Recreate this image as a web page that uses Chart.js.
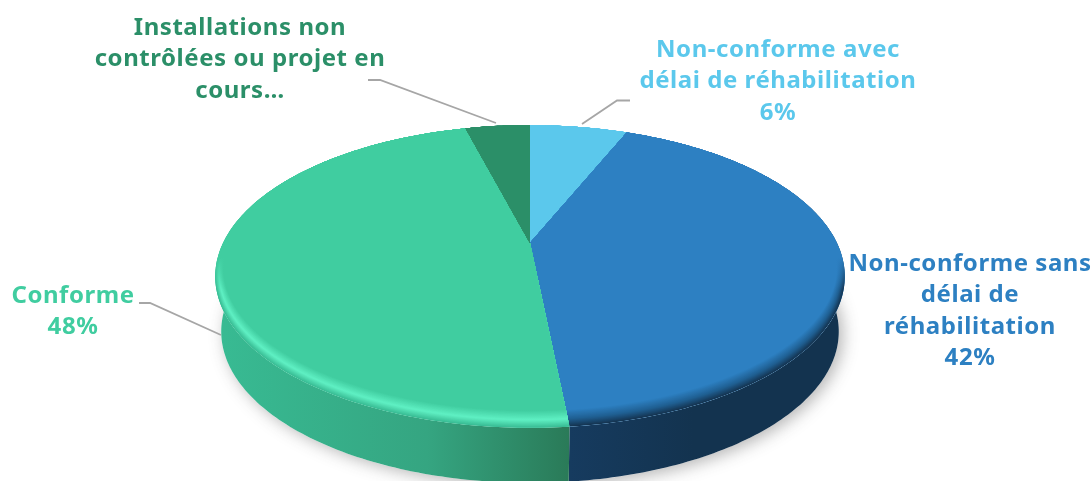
<!DOCTYPE html>
<html lang="fr">
<head>
<meta charset="utf-8">
<title>Conformité des installations</title>
<script src="https://cdn.jsdelivr.net/npm/chart.js@4"></script>
<style>
    html, body { margin: 0; padding: 0; background: #fff; }
    #wrap { width: 1092px; height: 481px; }
</style>
</head>
<body>
<div id="wrap"><canvas id="pieChart"></canvas></div>
<script>
// Data
const categories = [
    'Non-conforme avec délai de réhabilitation',
    'Non-conforme sans délai de réhabilitation',
    'Conforme',
    'Installations non contrôlées ou projet en cours…'
];
const shares = [6.2, 42.2, 47.5, 4.1];
const sliceLabels = [
    ['Non-conforme avec', 'délai de réhabilitation', '6%'],
    ['Non-conforme sans', 'délai de', 'réhabilitation', '42%'],
    ['Conforme', '48%'],
    ['Installations non', 'contrôlées ou projet en', 'cours…']
];
const sliceColors = ['#5bc8ec', '#2d80c2', '#40cda0', '#2b8f68'];

// Styling of the wall and of the bevel, per slice
const wallStops = [
    ['#2f7f9c', '#2f7f9c', '#2f7f9c'],
    ['#163b5f', '#13334f', '#13334f'],
    ['#38bb93', '#35a581', '#2a7a58'],
    ['#1d5f45', '#1d5f45', '#1d5f45']
];
const rimStops = [
    ['#5bc8ec', '#5bc8ec'],
    ['#14334f', '#1f5f92'],
    ['#38bb93', '#5ff0c3'],
    ['#2b8f68', '#2b8f68']
];
const labelPlaces = [
    { x: 778, y: 50 },
    { x: 970, y: 264 },
    { x: 73, y: 296 },
    { x: 240, y: 28 }
];
const leaderLines = [
    [[630, 100.5], [617, 100.5], [582, 124]],
    [],
    [[139, 303], [150, 303], [221, 335]],
    [[368, 80], [380, 80], [496, 123]]
];

// Tilted disc seen in perspective: the apex of the slices is not the ellipse centre
const disc = { apexX: 530, apexY: 243, a: 307, b: 144, k: 0.221, ellipseY: 276, rx: 315, ry: 151 };
const wall = { depth: 55, rx: 309 };
const rim = { layers: 14, lift: 8.5, shrink: 8 };

function project(angle) {
    const d = 1 - disc.k * Math.sin(angle);
    return {
        x: disc.apexX + disc.a * Math.cos(angle) / d,
        y: disc.apexY + disc.b * Math.sin(angle) / d
    };
}

function bottomEdge(angle) {
    const p = project(angle);
    return {
        x: disc.apexX + (p.x - disc.apexX) * wall.rx / disc.rx,
        y: p.y + wall.depth
    };
}

function rimEdge(angle, t) {
    const p = project(angle);
    const ry = disc.ry - rim.lift * t;
    return {
        x: disc.apexX + (p.x - disc.apexX) * (disc.rx - rim.shrink * t) / disc.rx,
        y: disc.ellipseY - rim.lift * t + (p.y - disc.ellipseY) * ry / disc.ry
    };
}

function anglesBetween(start, end) {
    const list = [];
    const steps = Math.max(8, Math.ceil((end - start) * 60));
    for (let i = 0; i <= steps; i++) {
        list.push(start + (end - start) * i / steps);
    }
    return list;
}

function mix(c1, c2, f) {
    const n1 = parseInt(c1.slice(1), 16);
    const n2 = parseInt(c2.slice(1), 16);
    const ch = s => Math.round(((n1 >> s) & 255) * (1 - f) + ((n2 >> s) & 255) * f);
    return 'rgb(' + ch(16) + ',' + ch(8) + ',' + ch(0) + ')';
}

function tracePoints(ctx, pts) {
    pts.forEach(p => ctx.lineTo(p.x, p.y));
}

function drawShadow(ctx) {
    const pts = anglesBetween(0, Math.PI * 2).map(bottomEdge);
    ctx.save();
    ctx.shadowColor = 'rgba(60, 60, 60, 0.38)';
    ctx.shadowBlur = 16;
    ctx.shadowOffsetX = 4;
    ctx.shadowOffsetY = 3;
    ctx.fillStyle = '#fff';
    ctx.beginPath();
    tracePoints(ctx, pts);
    ctx.closePath();
    ctx.fill();
    ctx.restore();
}

function drawWall(ctx, arc, i) {
    const angles = anglesBetween(arc.startAngle, arc.endAngle);
    const top = angles.map(project);
    const bottom = angles.map(bottomEdge).reverse();
    const xs = top.map(p => p.x);
    const grad = ctx.createLinearGradient(Math.min(...xs), 0, Math.max(...xs), 0);
    grad.addColorStop(0, wallStops[i][0]);
    grad.addColorStop(i === 1 ? 0.45 : 0.6, wallStops[i][1]);
    grad.addColorStop(1, wallStops[i][2]);
    ctx.fillStyle = grad;
    ctx.beginPath();
    tracePoints(ctx, top.concat(bottom));
    ctx.closePath();
    ctx.fill();
}

function drawFace(ctx, arc, i) {
    const angles = anglesBetween(arc.startAngle, arc.endAngle);
    const face = sliceColors[i];

    ctx.save();
    ctx.beginPath();
    ctx.moveTo(disc.apexX, disc.apexY);
    tracePoints(ctx, angles.map(project));
    ctx.closePath();
    ctx.fillStyle = face;
    ctx.fill();
    ctx.clip();

    // bevel: nested discs, only visible on the front half
    for (let n = 0; n <= rim.layers * 2; n++) {
        const t = n / (rim.layers * 2);
        const color = t < 0.45
            ? mix(rimStops[i][0], rimStops[i][1], t / 0.45)
            : mix(rimStops[i][1], face, (t - 0.45) / 0.55);
        const grad = ctx.createLinearGradient(0, disc.ellipseY - 18, 0, disc.ellipseY + 14);
        grad.addColorStop(0, face);
        grad.addColorStop(1, color);
        ctx.fillStyle = grad;
        ctx.beginPath();
        tracePoints(ctx, anglesBetween(0, Math.PI * 2).map(a => rimEdge(a, t)));
        ctx.closePath();
        ctx.fill();
    }
    ctx.restore();
}

function drawLabels(ctx) {
    ctx.save();
    ctx.font = 'bold 24px "Noto Sans"';
    ctx.textAlign = 'center';
    ctx.textBaseline = 'middle';
    ctx.letterSpacing = '0.55px';
    sliceLabels.forEach((lines, i) => {
        ctx.fillStyle = sliceColors[i];
        lines.forEach((line, n) => {
            ctx.fillText(line, labelPlaces[i].x, labelPlaces[i].y + n * 31.5);
        });
    });
    ctx.restore();

    ctx.save();
    ctx.strokeStyle = '#a6a6a6';
    ctx.lineWidth = 1.8;
    leaderLines.forEach(line => {
        ctx.beginPath();
        line.forEach(p => ctx.lineTo(p[0], p[1]));
        ctx.stroke();
    });
    ctx.restore();
}

// Takes the slice angles Chart.js worked out and draws them on the tilted disc
const tiltedPie = {
    id: 'tiltedPie',
    beforeDatasetsDraw(chart) {
        const ctx = chart.ctx;
        const arcs = chart.getDatasetMeta(0).data;
        drawShadow(ctx);
        arcs.forEach((arc, i) => drawWall(ctx, arc, i));
        arcs.forEach((arc, i) => drawFace(ctx, arc, i));
        drawLabels(ctx);
        return false;
    }
};

document.addEventListener('DOMContentLoaded', function() {
    const pieCtx = document.getElementById('pieChart').getContext('2d');
    new Chart(pieCtx, {
        type: 'pie',
        data: {
            labels: categories,
            datasets: [{
                data: shares,
                backgroundColor: sliceColors
            }]
        },
        options: {
            responsive: true,
            maintainAspectRatio: false,
            animation: false,
            plugins: {
                legend: { display: false },
                tooltip: { enabled: false }
            }
        },
        plugins: [tiltedPie]
    });
});
</script>
</body>
</html>
